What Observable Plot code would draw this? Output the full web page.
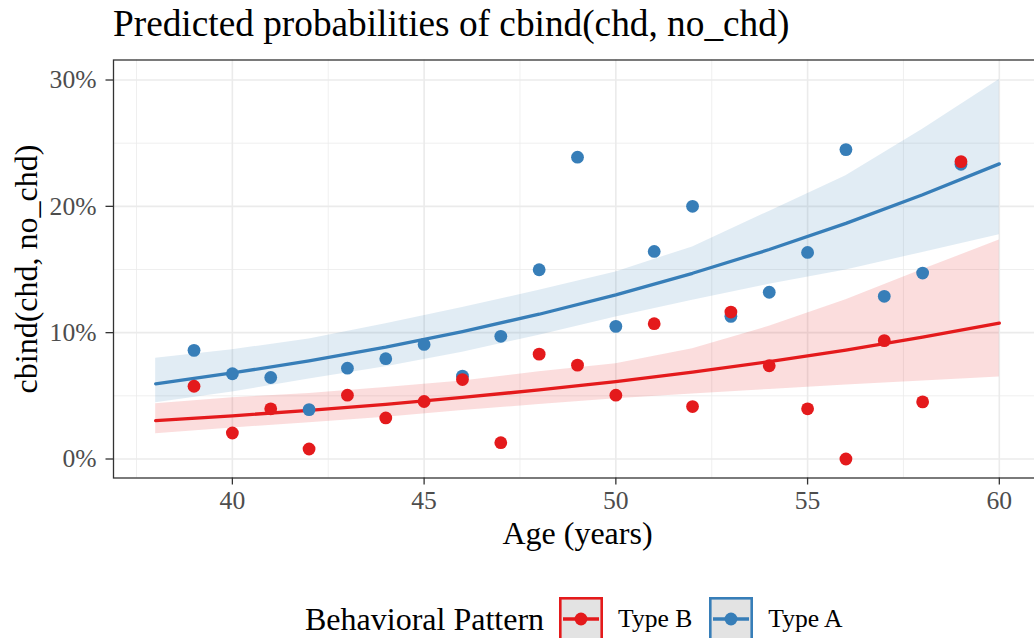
<!DOCTYPE html>
<html>
<head>
<meta charset="utf-8">
<script src="https://cdn.jsdelivr.net/npm/d3@7"></script>
<script src="https://cdn.jsdelivr.net/npm/@observablehq/plot@0.6"></script>
<style>
  html, body { margin: 0; padding: 0; background: #fff; overflow: hidden; }
  #wrap { width: 1034px; height: 638px; overflow: hidden; position: relative; font-family: "Liberation Serif", "Times New Roman", serif; background: #fff; }
  #title { height: 48px; line-height: 48px; font-size: 37.3px; padding-left: 113px; color: #000; white-space: nowrap; }
  #chart { height: 500px; width: 1060px; }
  #legend { position: absolute; top: 597px; left: 305px; height: 44px; display: flex; align-items: center; white-space: nowrap; color: #000; }
  #legend .ttl { font-size: 32px; margin-right: 15px; }
  #legend .lab { font-size: 25.6px; margin-left: 15px; margin-right: 17px; }
  #legend svg { display: block; }
</style>
</head>
<body>
<div id="wrap">
  <div id="title">Predicted probabilities of cbind(chd, no_chd)</div>
  <div id="chart"></div>
  <div id="legend"></div>
</div>
<script>
// ---- Data (percentages) ----
const groups = ["Type B", "Type A"];
const groupColors = ["#E41A1C", "#377EB8"];

const obsAges = [39, 40, 41, 42, 43, 44, 45, 46, 47, 48, 49, 50, 51, 52, 53, 54, 55, 56, 57, 58, 59];
const obsTypeA = [8.6, 6.75, 6.45, 3.91, 7.19, 7.94, 9.07, 6.56, 9.71, 14.98, 23.89, 10.5, 16.43, 20.0, 11.29, 13.2, 16.35, 24.49, 12.88, 14.72, 23.33];
const obsTypeB = [5.76, 2.06, 3.97, 0.79, 5.05, 3.25, 4.55, 6.29, 1.29, 8.30, 7.43, 5.05, 10.71, 4.15, 11.63, 7.38, 3.97, 0, 9.37, 4.52, 23.54];

const predAges = [38, 40, 42, 44, 46, 48, 50, 52, 54, 56, 58, 60];
const predTypeA = [5.95, 6.81, 7.77, 8.86, 10.09, 11.46, 12.99, 14.70, 16.58, 18.65, 20.92, 23.36];
const lowTypeA  = [4.45, 5.30, 6.33, 7.30, 8.45, 9.80, 11.24, 12.56, 13.83, 14.97, 16.35, 17.75];
const highTypeA = [7.97, 8.65, 9.50, 10.70, 11.99, 13.35, 14.81, 16.79, 19.60, 22.43, 26.10, 30.05];
const predTypeB = [3.04, 3.42, 3.85, 4.33, 4.87, 5.47, 6.13, 6.88, 7.70, 8.62, 9.64, 10.76];
const lowTypeB  = [2.00, 2.46, 2.86, 3.31, 3.83, 4.31, 4.76, 5.14, 5.51, 5.85, 6.17, 6.50];
const highTypeB = [4.37, 4.84, 5.18, 5.65, 6.17, 6.91, 7.54, 8.73, 10.50, 12.60, 15.00, 17.33];

const xMajor = [40, 45, 50, 55, 60];
const xMinor = [37.5, 42.5, 47.5, 52.5, 57.5];
const yMajor = [0, 0.1, 0.2, 0.3];
const yMinor = [0.05, 0.15, 0.25];

// ---- Build tables ----
const obs = [];
obsAges.forEach((a, i) => {
  obs.push({age: a, p: obsTypeA[i] / 100, group: "Type A"});
});
obsAges.forEach((a, i) => {
  obs.push({age: a, p: obsTypeB[i] / 100, group: "Type B"});
});
const pred = [];
predAges.forEach((a, i) => pred.push({age: a, p: predTypeA[i] / 100, lo: lowTypeA[i] / 100, hi: highTypeA[i] / 100, group: "Type A"}));
predAges.forEach((a, i) => pred.push({age: a, p: predTypeB[i] / 100, lo: lowTypeB[i] / 100, hi: highTypeB[i] / 100, group: "Type B"}));

const color = {domain: groups, range: groupColors};
const fmtPct = d3.format(".0%");
const grid = "#EBEBEB";

const chart = Plot.plot({
  width: 1060,
  height: 500,
  marginLeft: 113,
  marginRight: 19,
  marginTop: 11.5,
  marginBottom: 70.5,
  style: {fontFamily: "'Liberation Serif', 'Times New Roman', serif", background: "white", overflow: "visible"},
  x: {domain: [36.9, 61.1]},
  y: {domain: [-0.01504, 0.31584]},
  color,
  marks: [
    Plot.ruleX(xMinor, {stroke: grid, strokeWidth: 0.8}),
    Plot.ruleY(yMinor, {stroke: grid, strokeWidth: 0.8}),
    Plot.ruleX(xMajor, {stroke: grid, strokeWidth: 1.6}),
    Plot.ruleY(yMajor, {stroke: grid, strokeWidth: 1.6}),
    Plot.areaY(pred, {x: "age", y1: "lo", y2: "hi", z: "group", fill: "group", fillOpacity: 0.15}),
    Plot.line(pred, {x: "age", y: "p", z: "group", stroke: "group", strokeWidth: 3.3}),
    Plot.dot(obs, {x: "age", y: "p", fill: "group", r: 6.4}),
    Plot.frame({stroke: "#333333", strokeWidth: 1.3}),
    Plot.axisX({ticks: xMajor, tickSize: 7, tickPadding: 5.5, fontSize: 25.6, stroke: "#333333", strokeWidth: 1.3, fill: "#4D4D4D", label: null}),
    Plot.axisY({ticks: yMajor, tickFormat: fmtPct, tickSize: 7.5, tickPadding: 9.5, fontSize: 25.6, stroke: "#333333", strokeWidth: 1.3, fill: "#4D4D4D", label: null}),
    Plot.text(["Age (years)"], {frameAnchor: "bottom", lineAnchor: "bottom", textAnchor: "middle", dy: 65.5, fontSize: 32, fill: "#000"}),
    Plot.text(["cbind(chd, no_chd)"], {frameAnchor: "left", lineAnchor: "bottom", textAnchor: "middle", rotate: -90, dx: -77, fontSize: 32, fill: "#000"})
  ]
});
document.getElementById("chart").appendChild(chart);

// ---- Legend ----
const legend = document.getElementById("legend");
const t = document.createElement("span");
t.className = "ttl";
t.textContent = "Behavioral Pattern";
legend.appendChild(t);
groups.forEach((g, i) => {
  const c = groupColors[i];
  const sw = document.createElementNS("http://www.w3.org/2000/svg", "svg");
  sw.setAttribute("width", 44);
  sw.setAttribute("height", 44);
  sw.innerHTML = `<rect x="1.3" y="1.3" width="41.4" height="41.4" fill="#E3E3E3" stroke="${c}" stroke-width="2.6"/>` +
    `<line x1="4" x2="40" y1="22" y2="22" stroke="${c}" stroke-width="3.3"/>` +
    `<circle cx="22" cy="22" r="6.4" fill="${c}"/>`;
  legend.appendChild(sw);
  const l = document.createElement("span");
  l.className = "lab";
  l.textContent = g;
  legend.appendChild(l);
});
</script>
</body>
</html>
